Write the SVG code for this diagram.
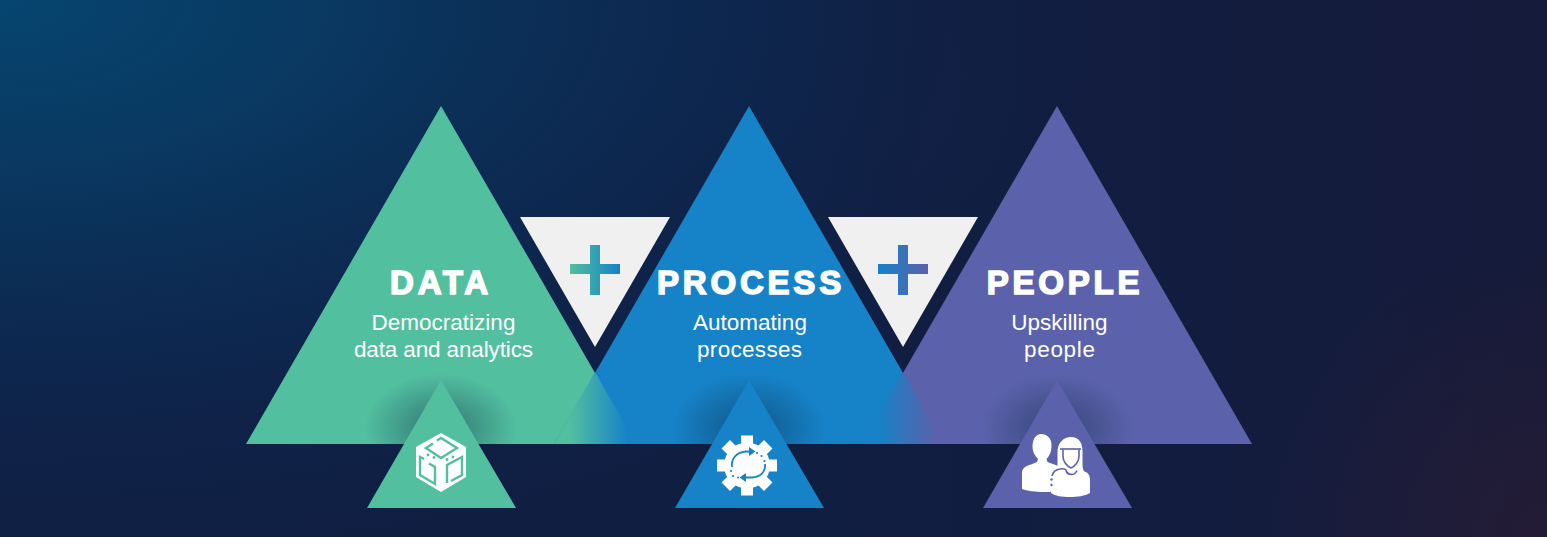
<svg xmlns="http://www.w3.org/2000/svg" width="1547" height="537" viewBox="0 0 1547 537">
<style>
.t{font-family:"Liberation Sans",Arial,sans-serif;fill:#fff;text-anchor:middle}
.h{font-size:33px;font-weight:700;stroke:#fff;stroke-width:1.6px;letter-spacing:3.8px}
.s{font-size:22.5px}
.ic{fill:#fff}
</style>
<defs>
<radialGradient id="bgA" gradientUnits="userSpaceOnUse" cx="0" cy="0" r="1150" gradientTransform="scale(1 .5)">
<stop offset="0" stop-color="#05456f"/><stop offset=".25" stop-color="#093a63"/><stop offset=".5" stop-color="#0c2c54"/><stop offset=".75" stop-color="#0f2248"/><stop offset="1" stop-color="#101e42"/>
</radialGradient>
<linearGradient id="bgR" gradientUnits="userSpaceOnUse" x1="800" y1="0" x2="1547" y2="0">
<stop offset="0" stop-color="#151b3b" stop-opacity="0"/><stop offset="1" stop-color="#151b3b"/>
</linearGradient>
<radialGradient id="bgB" gradientUnits="userSpaceOnUse" cx="1547" cy="537" r="300">
<stop offset="0" stop-color="#241b36"/><stop offset="1" stop-color="#241b36" stop-opacity="0"/>
</radialGradient>
<linearGradient id="ov1" gradientUnits="userSpaceOnUse" x1="570" y1="0" x2="628" y2="0"><stop offset="0" stop-color="#52bf9f"/><stop offset="1" stop-color="#1682c7"/></linearGradient>
<linearGradient id="ov2" gradientUnits="userSpaceOnUse" x1="878" y1="0" x2="936" y2="0"><stop offset="0" stop-color="#1682c7"/><stop offset="1" stop-color="#5b62ab"/></linearGradient>
<linearGradient id="p1" gradientUnits="userSpaceOnUse" x1="570" y1="0" x2="620" y2="0"><stop offset="0" stop-color="#52bf9f"/><stop offset="1" stop-color="#1682c7"/></linearGradient>
<linearGradient id="p2" gradientUnits="userSpaceOnUse" x1="878" y1="0" x2="928" y2="0"><stop offset="0" stop-color="#1682c7"/><stop offset="1" stop-color="#5b62ab"/></linearGradient>
<radialGradient id="sh"><stop offset="0" stop-color="#0d2a48" stop-opacity=".5"/><stop offset=".4" stop-color="#0d2a48" stop-opacity=".3"/><stop offset="1" stop-color="#0d2a48" stop-opacity="0"/></radialGradient>
<clipPath id="c1"><polygon points="441,106 246,444 636,444"/></clipPath>
<clipPath id="c2"><polygon points="749,106 554,444 944,444"/></clipPath>
<clipPath id="c3"><polygon points="1057,106 862,444 1252,444"/></clipPath>
</defs>
<rect id="bg" width="1547" height="537" fill="url(#bgA)"/>
<rect width="1547" height="537" fill="url(#bgR)"/>
<rect width="1547" height="537" fill="url(#bgB)"/>
<g id="data-main"><polygon points="441,106 246,444 636,444" fill="#52bf9f"/><ellipse cx="441" cy="428" rx="76" ry="54" fill="url(#sh)" clip-path="url(#c1)"/></g>
<g id="process-main"><polygon points="749,106 554,444 944,444" fill="#1682c7"/><polygon points="595,372 554,444 636,444" fill="url(#ov1)"/><ellipse cx="749" cy="428" rx="76" ry="54" fill="url(#sh)" clip-path="url(#c2)"/></g>
<g id="people-main"><polygon points="1057,106 862,444 1252,444" fill="#5b62ab"/><polygon points="903,372 862,444 944,444" fill="url(#ov2)"/><ellipse cx="1057" cy="428" rx="76" ry="54" fill="url(#sh)" clip-path="url(#c3)"/></g>
<g id="plus-1"><polygon points="520,217 670,217 595,347" fill="#f0f0f0"/><path d="M590 245h10v19h20v10h-20v21h-10v-21h-20v-10h20z" fill="url(#p1)"/></g>
<g id="plus-2"><polygon points="828,217 978,217 903,347" fill="#f0f0f0"/><path d="M898 245h10v19h20v10h-20v21h-10v-21h-20v-10h20z" fill="url(#p2)"/></g>
<g id="data-label"><text class="t h" x="441" y="294">DATA</text><text class="t s" x="443.500" y="330">Democratizing</text><text class="t s" x="443.500" y="357" textLength="179">data and analytics</text></g>
<g id="process-label"><text class="t h" x="751" y="294">PROCESS</text><text class="t s" x="750" y="330">Automating</text><text class="t s" x="749.500" y="357" textLength="105">processes</text></g>
<g id="people-label"><text class="t h" x="1065" y="294">PEOPLE</text><text class="t s" x="1059.500" y="330">Upskilling</text><text class="t s" x="1059.500" y="357" textLength="71">people</text></g>
<g id="data-icon">
<polygon points="441,380 367,508 516,508" fill="#52bf9f"/>
<polygon class="ic" points="441,433 466,447 466,477 441,492 416,477 416,447"/>
<g fill="none" stroke="#52bf9f" stroke-width="2.400">
<path d="M437 440.500l4-2.500 16 10-16 10-15-10 7-4.500"/>
<path d="M424 459l-4-2v18l15 9v-17l-6-3.500"/>
<path d="M447 483v-18l15-8v18l-11 6"/>
</g>
<g fill="#52bf9f"><circle cx="428" cy="455" r="1.400"/><circle cx="434" cy="457.500" r="1.400"/><circle cx="447" cy="459.500" r="1.400"/><circle cx="453" cy="457" r="1.400"/></g>
</g>
<g id="process-icon">
<polygon points="749,380 675,508 824,508" fill="#1682c7"/>
<g class="ic" transform="translate(747 465.500)"><circle r="23"/><rect x="-6" y="-30" width="12" height="60"/><rect x="-6" y="-30" width="12" height="60" transform="rotate(45)"/><rect x="-6" y="-30" width="12" height="60" transform="rotate(90)"/><rect x="-6" y="-30" width="12" height="60" transform="rotate(135)"/></g>
<g fill="none" stroke="#1682c7" stroke-width="1.800">
<path d="M732 467c-1-9 5-15 14-15.500l4 0"/><path d="M765 464c1 8-5 13-13 13.500l-7 0"/>
</g>
<path d="M749 447l6.500 4.500-6.500 4.500zM746 473l-6.500 4.500 6.500 4.500z" fill="#1682c7"/>
<g fill="#1682c7"><circle cx="757" cy="453" r="1.100"/><circle cx="761.500" cy="456" r="1.100"/><circle cx="764.500" cy="461" r="1.100"/><circle cx="731" cy="471" r="1.100"/><circle cx="733" cy="476" r="1.100"/><circle cx="738" cy="477.500" r="1.100"/></g>
</g>
<g id="people-icon">
<polygon points="1057,380 983,508 1132,508" fill="#5b62ab"/>
<g class="ic">
<path d="M1041 434c6 0 10.500 4 10.500 11 0 7-2 11-5 14l1 3 8 3 3 1v25c-12 2-29 1-36.500-2v-16c0-5 4-7 9-8.500l6-2.500 1-3c-3-3-5.500-7-5.500-12 0-8 3.500-13 8.500-13z"/>
<path d="M1057.500 452c0-9 6-15 13.500-15 8 0 11.500 6 11.500 14v14c0 3 1 6 3 9l-12 3-12-2-6-2c1.500-2 2-6 2-10z"/>
<path d="M1051 481c0-6 2-9 8-10l8-3h8l8 3c5 1 7 4 7 9v13c-5 3-13 4-20 4-8 0-15-1-19-4z"/>
</g>
<g fill="none" stroke="#5b62ab" stroke-width="1.600">
<path d="M1060 449h21"/>
<path d="M1063 449.500v7c0 5 4 10 8 11.500 4-1.500 8-6.500 8-11.500v-7"/>
<path d="M1052 476c1-4 4-6.500 8-7 3-.5 5-.5 6 1 .5 3 3 4.500 6 4.500 2.500 0 4-2 5-4"/>
</g>
<g fill="#5b62ab"><circle cx="1051.500" cy="479.500" r="1.200"/><circle cx="1051.500" cy="485" r="1.200"/></g>
</g>
</svg>
